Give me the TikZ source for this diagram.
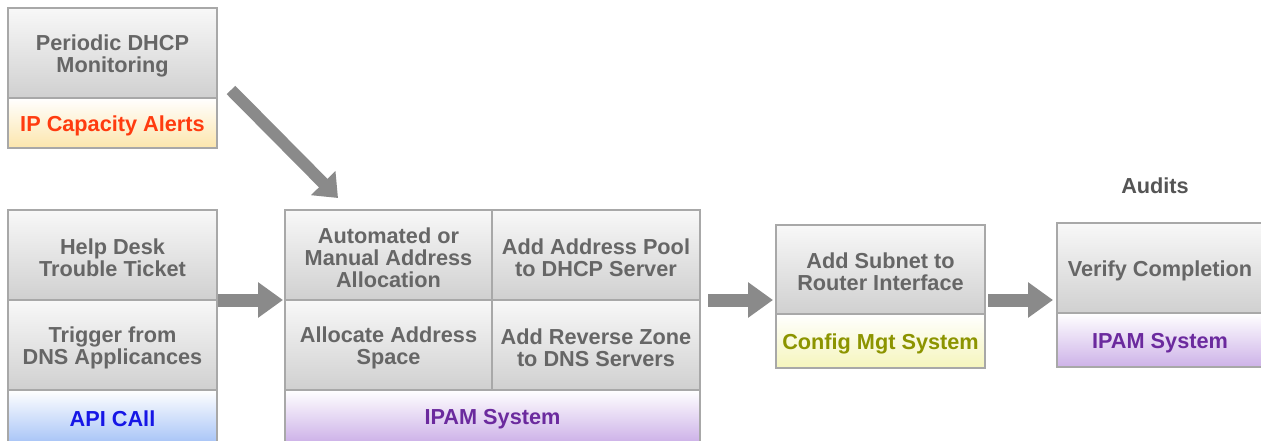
\documentclass[tikz,border=0pt]{standalone}
\usepackage{fontspec}
\setmainfont{Liberation Sans}
\usetikzlibrary{arrows.meta,calc}

\definecolor{edge}{HTML}{A8A8A8}
\definecolor{txtgray}{HTML}{666666}
\definecolor{cellTop}{HTML}{F8F8F8}
\definecolor{cellBot}{HTML}{D0D0D0}
\definecolor{arrowgray}{HTML}{8A8A8A}
\definecolor{alertText}{HTML}{FF3B0F}
\definecolor{alertBot}{HTML}{FCE6AC}
\definecolor{apiText}{HTML}{1616E6}
\definecolor{apiBot}{HTML}{A9C5F7}
\definecolor{ipamText}{HTML}{6B2A9E}
\definecolor{ipamBot}{HTML}{CDB2E8}
\definecolor{cfgText}{HTML}{8C9400}
\definecolor{cfgBot}{HTML}{F5F5BC}
\definecolor{auditText}{HTML}{555555}

\newcommand\boxfont{\fontsize{21.7}{22}\selectfont\bfseries}
% invisible strut that pushes the first line of a label a little lower
\newcommand\lift{\rule{0pt}{21pt}}

\begin{document}
\begin{tikzpicture}[x=1pt,y=-1pt,
  cell/.style={draw=edge, line width=1.4pt, inner sep=0pt, outer sep=0pt,
    anchor=north west, align=center, font=\boxfont, text=txtgray,
    shading=axis, top color=cellTop, bottom color=cellBot},
  band/.style={cell, top color=white},
  alertband/.style={band, bottom color=alertBot, text=alertText},
  apiband/.style={band, bottom color=apiBot, text=apiText},
  ipamband/.style={band, bottom color=ipamBot, text=ipamText},
  cfgband/.style={band, bottom color=cfgBot, text=cfgText},
  bigarrow/.style={draw=arrowgray, line width=13pt,
    -{Triangle[length=25pt,width=34pt]}},
  diagarrow/.style={draw=arrowgray, line width=12pt,
    -{Triangle[length=21pt,width=33pt]}}]

\clip (0,0) rectangle (1261,441);
\fill[white] (0,0) rectangle (1261,441);

% monitoring source
\node[cell, minimum width=209pt, minimum height=90pt] (monitor) at (8,8)
  {\lift Periodic DHCP\\Monitoring};
\node[alertband, minimum width=209pt, minimum height=50pt] (alerts) at (8,98)
  {\lift IP Capacity Alerts};

% request sources
\node[cell, minimum width=209pt, minimum height=90pt] (help) at (8,210)
  {\lift Help Desk\\Trouble Ticket};
\node[cell, minimum width=209pt, minimum height=90pt] (trigger) at (8,300)
  {\lift Trigger from\\DNS Applicances};
\node[apiband, minimum width=209pt, minimum height=52pt] (api) at (8,390)
  {\lift API CAll};

% IPAM tasks
\node[cell, minimum width=207pt, minimum height=90pt] (alloc) at (285,210)
  {\lift Automated or\\Manual Address\\Allocation};
\node[cell, minimum width=208pt, minimum height=90pt] (pool) at (492,210)
  {\lift Add Address Pool\\to DHCP Server};
\node[cell, minimum width=207pt, minimum height=90pt] (space) at (285,300)
  {\lift Allocate Address\\Space};
\node[cell, minimum width=208pt, minimum height=90pt] (rzone) at (492,300)
  {\lift Add Reverse Zone\\to DNS Servers};
\node[ipamband, minimum width=415pt, minimum height=52pt] (ipam) at (285,390)
  {\lift IPAM System};

% router configuration
\node[cell, minimum width=209pt, minimum height=89pt] (subnet) at (776,225)
  {\lift Add Subnet to\\Router Interface};
\node[cfgband, minimum width=209pt, minimum height=54pt] (config) at (776,314)
  {\lift Config Mgt System};

% audit
\node[font=\boxfont, text=auditText, inner sep=0pt] (audits) at (1155,186) {Audits};
\node[cell, minimum width=206pt, minimum height=90pt] (verify) at (1057,223)
  {\lift Verify Completion};
\node[ipamband, minimum width=206pt, minimum height=54pt] (ipam2) at (1057,313)
  {\lift IPAM System};

% flow arrows
\coordinate (dstart) at (231,90);
\coordinate (dend) at (338,198);
\draw[diagarrow] (dstart) -- (dend);
\draw[bigarrow] ([xshift=1pt]help.south east) -- ([xshift=-2pt]alloc.west |- help.south east);
\draw[bigarrow] ([xshift=8pt]pool.south east) -- ([xshift=-3pt]subnet.west |- pool.south east);
\draw[bigarrow] ([xshift=3pt]subnet.east |- pool.south east) -- ([xshift=-4pt]verify.west |- pool.south east);
\end{tikzpicture}
\end{document}
